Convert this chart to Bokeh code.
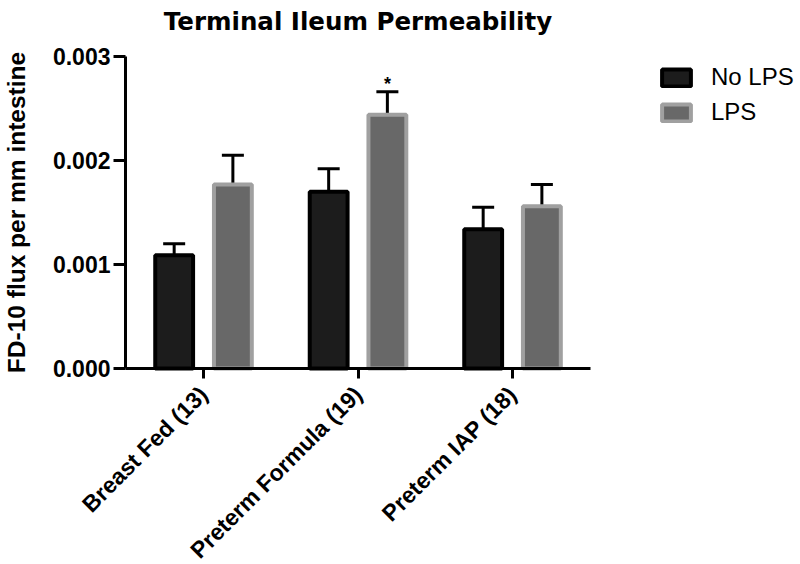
import math
from bokeh.plotting import figure
from bokeh.models import (ColumnDataSource, FixedTicker, Whisker, TeeHead,
                          Legend, LegendItem, Range1d, Label)
from bokeh.core.properties import value
from bokeh.embed import file_html
from bokeh.resources import INLINE

# ---- data ----
title_text = "Terminal Ileum Permeability"
y_title = "FD-10 flux per mm intestine"
groups = ["Breast Fed (13)", "Preterm Formula (19)", "Preterm IAP (18)"]
series = ["No LPS", "LPS"]
no_lps_mean = [0.00109, 0.00170, 0.00134]
no_lps_sem = [0.00011, 0.00022, 0.00021]
lps_mean = [0.00177, 0.00244, 0.00156]
lps_sem = [0.00028, 0.00022, 0.00021]
signif = ["", "*", ""]
y_ticks = [0.0, 0.001, 0.002, 0.003]

FONT = "Liberation Sans"

# axis extents; the frame covers the whole figure and the axes are pinned
X0, X1 = -0.505, 2.505
Y0, Y1 = 0.0, 0.003

p = figure(width=800, height=564, output_backend="svg", toolbar_location=None,
           x_range=Range1d(-1.31406, 3.86393), y_range=Range1d(-0.00188462, 0.00353846),
           min_border_left=0, min_border_right=0, min_border_top=0,
           min_border_bottom=0)
p.outline_line_color = None
p.grid.visible = False
p.background_fill_color = "white"

xs = list(range(len(groups)))
off = 0.19
bw = 0.245

src_no = ColumnDataSource(dict(x=[x - off for x in xs], top=no_lps_mean,
                               upper=[m + s for m, s in zip(no_lps_mean, no_lps_sem)]))
src_lps = ColumnDataSource(dict(x=[x + off for x in xs], top=lps_mean,
                                upper=[m + s for m, s in zip(lps_mean, lps_sem)]))

for src in (src_no, src_lps):
    w = Whisker(source=src, base="x", lower="top", upper="upper", dimension="height",
                line_color="black", line_width=3,
                upper_head=TeeHead(size=22, line_width=3, line_color="black"),
                lower_head=None)
    p.add_layout(w)

r_no = p.vbar(x="x", top="top", bottom=0, width=bw, source=src_no,
              fill_color="#1c1c1c", line_color="black", line_width=4)
r_lps = p.vbar(x="x", top="top", bottom=0, width=bw, source=src_lps,
               fill_color="#686868", line_color="#a0a0a0", line_width=4)

# significance marker
star_src = ColumnDataSource(dict(x=[x + off for x in xs],
                                 y=[m + s for m, s in zip(lps_mean, lps_sem)],
                                 t=signif))
p.text(x="x", y="y", text="t", source=star_src, text_align="center",
       text_baseline="bottom", y_offset=2, text_font=value(FONT),
       text_font_style="bold", text_font_size="18px", text_color="black")

# axes
for ax in (p.xaxis[0], p.yaxis[0]):
    ax.axis_line_width = 3
    ax.axis_line_color = "black"
    ax.major_tick_line_width = 3
    ax.major_tick_line_color = "black"
    ax.major_tick_in = 0
    ax.minor_tick_line_color = None
    ax.major_label_text_font = FONT
    ax.major_label_text_font_style = "bold"
    ax.major_label_text_font_size = "23px"
    ax.major_label_text_color = "black"

p.xaxis.fixed_location = Y0
p.xaxis.bounds = (X0, X1)
p.xaxis.ticker = FixedTicker(ticks=xs)
p.xaxis.major_label_overrides = {i: g for i, g in enumerate(groups)}
p.xaxis.major_label_orientation = math.pi / 4
p.xaxis.major_tick_out = 10
p.xaxis.major_label_standoff = 12

p.yaxis.fixed_location = X0
p.yaxis.bounds = (Y0, Y1)
p.yaxis.ticker = FixedTicker(ticks=y_ticks)
p.yaxis.major_label_overrides = {t: f"{t:.3f}" for t in y_ticks}
p.yaxis.major_tick_out = 12
p.yaxis.major_label_standoff = 3
p.yaxis.axis_label = y_title
p.yaxis.axis_label_text_font = FONT
p.yaxis.axis_label_text_font_style = "bold"
p.yaxis.axis_label_text_font_size = "24.5px"
p.yaxis.axis_label_text_color = "black"
p.yaxis.axis_label_standoff = 20

# title (centred over the plotting area)
p.add_layout(Label(x=(X0 + X1) / 2, y=0.0033365, text=title_text,
                   text_align="center", text_baseline="alphabetic",
                   text_font="DejaVu Sans", text_font_style="bold",
                   text_font_size="24.5px", text_color="black"))

legend = Legend(items=[LegendItem(label=series[0], renderers=[r_no]),
                       LegendItem(label=series[1], renderers=[r_lps])],
                location=(658, 438), orientation="vertical")
legend.border_line_color = None
legend.background_fill_alpha = 0
legend.padding = 0
legend.margin = 0
legend.glyph_width = 36
legend.glyph_height = 21
legend.label_height = 21
legend.spacing = 7
legend.label_standoff = 17
legend.label_text_font = FONT
legend.label_text_font_size = "24px"
legend.label_text_color = "black"
p.add_layout(legend, "center")

open("out.html", "w").write(file_html(p, INLINE))
